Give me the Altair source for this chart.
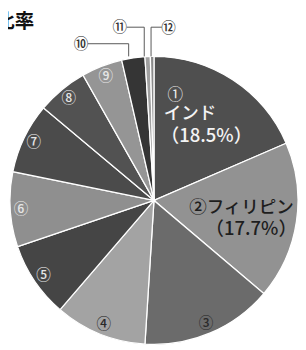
import altair as alt
import pandas as pd

# Data (shares in %)
ranks = [1, 2, 3, 4, 5, 6, 7, 8, 9, 10, 11, 12]
marks = ["①", "②", "③", "④", "⑤", "⑥", "⑦", "⑧", "⑨", "⑩", "⑪", "⑫"]
names = ["インド", "フィリピン", "", "", "", "", "", "", "", "", "", ""]
shares = [18.5, 17.7, 14.8, 10.3, 8.5, 8.4, 7.9, 5.7, 4.6, 2.6, 0.6, 0.4]
slice_colors = ["#4f4f4f", "#929292", "#6b6b6b", "#a3a3a3", "#454545", "#8f8f8f",
                "#4b4b4b", "#525252", "#959595", "#353535", "#a0a0a0", "#8a8a8a"]
title_text = "比率"

df = pd.DataFrame({"idx": ranks, "mark": marks, "name": names, "value": shares})


def only(rows, text_fn):
    return [text_fn(r) if r["idx"] in rows else "" for _, r in df.iterrows()]


df["m1"] = only([1], lambda r: r["mark"])
df["n1"] = only([1], lambda r: r["name"])
df["p1"] = only([1], lambda r: f"（{r['value']}%）")
df["n2"] = only([2], lambda r: f"{r['mark']}{r['name']}")
df["p2"] = only([2], lambda r: f"（{r['value']}%）")
df["dark"] = only([3, 4], lambda r: r["mark"])
df["light"] = only([5, 6, 7, 8, 9], lambda r: r["mark"])
df["l10"] = only([10], lambda r: r["mark"])
df["l11"] = only([11], lambda r: r["mark"])
df["l12"] = only([12], lambda r: r["mark"])

CX, CY, R = 150, 193, 148
FONT = "Noto Sans CJK JP"

base = alt.Chart(df).encode(
    theta=alt.Theta("value:Q", stack=True),
    order=alt.Order("idx:Q"),
    x=alt.value(CX),
    y=alt.value(CY),
)

pie = base.mark_arc(outerRadius=R, stroke="white", strokeWidth=1.3).encode(
    color=alt.Color("idx:N", scale=alt.Scale(domain=ranks, range=slice_colors), legend=None)
)


def label(field, radius, color, size=16, dx=0, dy=0, weight="normal"):
    return base.mark_text(
        radius=radius, color=color, fontSize=size, font=FONT, dx=dx, dy=dy,
        align="center", baseline="middle", fontWeight=weight,
    ).encode(text=f"{field}:N", detail=alt.Detail("idx:N"))


m1 = label("m1", 100, "#eeeeee", size=16, dx=-33, dy=-25)
n1 = label("n1", 100, "#f4f4f4", size=18, dx=-18, dy=-5, weight=500)
p1 = label("p1", 100, "#f4f4f4", size=19, dx=-1, dy=18, weight=500)
n2 = label("n2", 95, "#1e1e1e", size=18, dx=-4, dy=-6, weight=500)
p2 = label("p2", 95, "#1e1e1e", size=19, dx=6, dy=16, weight=500)
dark = label("dark", 137, "#2a2a2a", size=15, weight=500)
light = label("light", 137, "#e6e6e6", size=15, weight=500)
l10 = label("l10", 160, "#333333", size=15, dx=-52, dy=-2, weight=500)
l11 = label("l11", 160, "#333333", size=15, dx=-28, dy=-18, weight=500)
l12 = label("l12", 160, "#333333", size=15, dx=17, dy=-17, weight=500)

one = pd.DataFrame({"t": [title_text]})
rule_style = dict(color="#555555", strokeWidth=1)
leaders = [
    alt.Chart(one).mark_rule(**rule_style).encode(x=alt.value(82), x2=alt.value(124), y=alt.value(32), y2=alt.value(32)),
    alt.Chart(one).mark_rule(**rule_style).encode(x=alt.value(124), x2=alt.value(124), y=alt.value(32), y2=alt.value(45)),
    alt.Chart(one).mark_rule(**rule_style).encode(x=alt.value(122), x2=alt.value(140), y=alt.value(15), y2=alt.value(15)),
    alt.Chart(one).mark_rule(**rule_style).encode(x=alt.value(140), x2=alt.value(140), y=alt.value(15), y2=alt.value(45)),
    alt.Chart(one).mark_rule(**rule_style).encode(x=alt.value(147), x2=alt.value(158), y=alt.value(15), y2=alt.value(15)),
    alt.Chart(one).mark_rule(**rule_style).encode(x=alt.value(147), x2=alt.value(147), y=alt.value(15), y2=alt.value(45)),
]

title = alt.Chart(one).mark_text(
    font=FONT, fontSize=20, fontWeight="bold", color="#111111", align="right", baseline="alphabetic"
).encode(text="t:N", x=alt.value(27), y=alt.value(16))

chart = alt.layer(pie, *leaders, m1, n1, p1, n2, p2, dark, light, l10, l11, l12, title).properties(
    width=298, height=342, padding=0, autosize="none"
).configure_view(stroke=None)

chart.save("out.html", embed_options={"renderer": "svg", "actions": False})
